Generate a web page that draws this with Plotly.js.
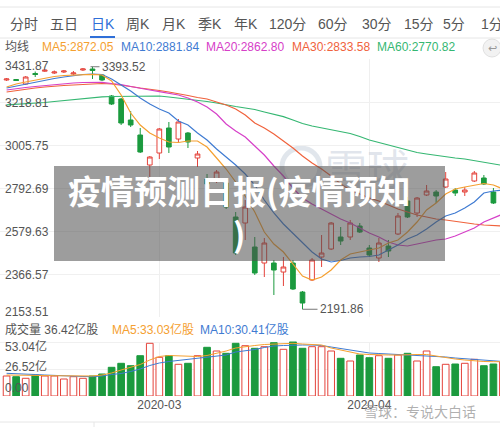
<!DOCTYPE html>
<html><head><meta charset="utf-8">
<script src="https://cdn.plot.ly/plotly-3.0.1.min.js"></script>
<style>html,body{margin:0;padding:0;background:#fff;}#chart{width:500px;height:427px;}</style>
</head><body><div id="chart"></div>
<script>
// ---------------- data ----------------
const dates = ['2020-02-07','2020-02-10','2020-02-11','2020-02-12','2020-02-13','2020-02-14','2020-02-17','2020-02-18','2020-02-19','2020-02-20','2020-02-21','2020-02-24','2020-02-25','2020-02-26','2020-02-27','2020-02-28','2020-03-02','2020-03-03','2020-03-04','2020-03-05','2020-03-06','2020-03-09','2020-03-10','2020-03-11','2020-03-12','2020-03-13','2020-03-16','2020-03-17','2020-03-18','2020-03-19','2020-03-20','2020-03-23','2020-03-24','2020-03-25','2020-03-26','2020-03-27','2020-03-30','2020-03-31','2020-04-01','2020-04-02','2020-04-03','2020-04-07','2020-04-08','2020-04-09','2020-04-10','2020-04-13','2020-04-14','2020-04-15','2020-04-16','2020-04-17','2020-04-20','2020-04-21','2020-04-22'];
const open  = [3327.8,3330.3,3308.0,3360.0,3371.4,3362.5,3367.5,3357.6,3377.4,3382.3,3352.6,3248.5,3233.7,3129.6,3055.3,2906.6,2966.1,3090.0,3035.5,3065.2,2941.3,2837.3,2832.3,2817.4,2649.0,2619.2,2500.3,2421.0,2421.0,2376.4,2421.0,2277.3,2336.8,2450.8,2490.4,2549.9,2549.9,2604.4,2495.4,2445.8,2505.3,2564.7,2728.3,2668.8,2758.0,2772.8,2797.6,2782.7,2772.8,2827.3,2842.2,2772.8,2758.0];
const high  = [3337.7,3332.8,3347.6,3369.9,3379.8,3374.9,3377.4,3372.4,3387.3,3393.52,3357.6,3253.5,3238.6,3174.2,3090.0,2951.2,3090.0,3119.7,3134.6,3070.1,2976.0,2862.0,2881.8,2842.2,2673.7,2733.2,2549.9,2544.9,2435.9,2450.8,2435.9,2282.3,2445.8,2559.8,2624.2,2599.4,2634.1,2619.2,2510.2,2544.9,2535.0,2668.8,2748.1,2748.1,2807.5,2782.7,2871.9,2792.7,2797.6,2876.9,2857.1,2792.7,2817.4];
const low   = [3322.9,3322.9,3303.0,3342.7,3367.5,3357.6,3362.5,3350.1,3372.4,3332.8,3322.9,3203.9,3104.8,3094.9,2966.1,2822.4,2936.4,2966.1,3020.6,2990.9,2896.7,2787.7,2817.4,2688.6,2460.7,2535.0,2361.6,2351.7,2262.5,2307.1,2287.2,2191.86,2331.8,2401.2,2485.4,2510.2,2535.0,2569.7,2450.8,2426.0,2450.8,2559.8,2644.0,2649.0,2753.0,2718.3,2792.7,2753.0,2753.0,2822.4,2807.5,2713.4,2748.1];
const close = [3332.8,3325.4,3342.7,3355.1,3376.4,3367.5,3372.4,3362.5,3382.3,3374.9,3327.8,3208.9,3114.7,3104.8,2971.0,2946.3,3085.0,2995.8,3119.7,3020.6,2961.1,2812.5,2871.9,2698.5,2470.6,2698.5,2371.5,2520.1,2386.3,2401.2,2292.2,2222.8,2435.9,2470.6,2619.2,2530.0,2619.2,2574.6,2460.7,2520.1,2480.5,2653.9,2649.0,2743.1,2777.8,2753.0,2837.3,2767.9,2782.7,2867.0,2812.5,2718.3,2807.5];

const ma5  = [3293.1,3308.0,3317.9,3327.8,3337.7,3345.1,3350.1,3352.6,3355.1,3356.0,3352.6,3322.9,3253.5,3164.3,3104.8,3065.2,3040.4,3020.6,3018.1,3025.6,3025.6,2995.8,2941.3,2886.8,2822.4,2753.0,2673.7,2574.6,2515.2,2475.5,2416.1,2356.6,2336.8,2351.7,2386.3,2435.9,2465.6,2475.5,2485.5,2495.4,2520.1,2535.0,2574.6,2624.2,2683.7,2718.3,2762.9,2787.7,2797.6,2807.5,2815.0,2807.5,2787.7];
const ma10 = [3288.2,3298.1,3308.0,3317.9,3327.8,3335.2,3342.7,3350.1,3355.1,3357.5,3355.1,3332.8,3303.0,3273.3,3238.6,3208.9,3184.1,3164.3,3124.7,3104.8,3065.2,3030.5,2985.9,2946.3,2906.6,2862.0,2807.5,2733.2,2668.8,2614.3,2569.7,2525.1,2475.5,2440.9,2426.0,2433.4,2445.8,2450.8,2453.3,2460.7,2485.5,2510.2,2539.9,2559.8,2589.5,2624.2,2653.9,2668.8,2693.6,2723.3,2767.9,2777.8,2782.7];
const ma20 = [3278.3,3285.7,3290.6,3295.6,3300.6,3305.5,3309.5,3312.9,3315.4,3316.4,3316.4,3310.5,3305.5,3295.6,3285.7,3278.3,3269.8,3263.4,3253.5,3238.6,3218.8,3194.0,3159.3,3109.8,3075.1,3045.4,3000.8,2956.2,2901.7,2852.1,2792.7,2743.1,2713.4,2688.6,2663.8,2639.1,2619.2,2594.5,2569.7,2549.9,2525.1,2510.2,2505.3,2515.2,2525.1,2535.0,2539.9,2554.8,2574.6,2594.5,2624.2,2644.0,2663.8];
const ma30 = [3268.4,3275.8,3283.2,3288.2,3293.1,3298.1,3300.6,3303.0,3305.5,3308.0,3310.5,3308.0,3303.0,3295.6,3288.2,3283.2,3275.8,3268.4,3260.9,3251.0,3241.1,3233.7,3218.8,3203.9,3184.1,3154.4,3114.7,3090.0,3060.2,3025.6,2990.9,2951.2,2916.5,2886.8,2852.1,2812.5,2782.7,2762.9,2743.1,2728.3,2708.4,2688.6,2673.7,2658.9,2649.0,2639.1,2634.1,2626.7,2619.2,2614.3,2609.3,2606.9,2604.4];
const ma60 = [3204.9,3207.4,3208.9,3212.3,3216.3,3221.3,3226.2,3231.2,3236.1,3241.1,3244.6,3246.1,3247.0,3248.5,3249.5,3251.0,3248.5,3243.6,3238.6,3233.7,3228.7,3221.3,3213.8,3203.9,3196.5,3189.1,3181.6,3169.2,3156.9,3146.0,3129.6,3112.3,3099.9,3090.0,3080.1,3070.1,3062.7,3047.8,3030.5,3018.1,3005.8,2993.4,2981.0,2968.6,2961.1,2953.7,2948.7,2941.3,2936.4,2928.9,2921.5,2911.6,2904.1];

const volume  = [20,19.3,17.7,21,20,20,17,19.3,17.7,20,22,28.7,32.7,30.3,40.3,52.7,38.7,40.3,31.7,32.7,40.3,48.7,45,42.7,52.7,50.3,47.7,49.3,53.3,46.7,54.3,47.7,49.3,49.3,45,37.7,35,41,38.3,40.3,37.7,41,42.7,35,45,29.3,31.7,32,32.7,36.7,30.3,32,34];
const volMa5  = [21,21,21,20.5,20.5,20.3,20.2,20,20,20,21,23,26,29,31.5,36,39.5,40.5,40.3,40,39.5,40.5,42.5,45,48,49.5,50.5,51.5,52,52.5,52.7,52,51.5,51,48,46,44,42,41.5,41,41,41,41.5,41.5,41.5,40,38,37,36,35,34.5,34.3,34.3];
const volMa10 = [22.7,22.5,22,21.5,21,20.5,20,19.7,19.5,19.3,20,21.5,22.5,24.5,27,30.5,33,34.5,35.5,36.5,37.5,38.5,39.5,41,44,45,46.5,48.5,50,50.5,51,51,51,50.5,49,47.5,46,44,43,42.5,42,41.5,41,40.5,40.3,40,39,38,37.3,36.5,35.5,35,34.5];

const priceTicks = [3431.87,3218.81,3005.75,2792.69,2579.63,2366.57,2153.51];
const priceTickText = ['3431.87','3218.81','3005.75','2792.69','2579.63','2366.57','2153.51'];
const volTicks = [53.04,26.52,0];
const volTickText = ['53.04亿','26.52亿','0.00'];
const xTickVals = ['2020-03-02','2020-04-01'];
const xTickText = ['2020-03','2020-04'];
const tabs = ['分时','五日','日K','周K','月K','季K','年K','120分','60分','30分','15分','5分','1分'];
const maLegend = ['MA5:2872.05','MA10:2881.84','MA20:2862.80','MA30:2833.58','MA60:2770.82'];
const volLegend = ['成交量 36.42亿股','MA5:33.03亿股','MA10:30.41亿股'];
const highLabel = '3393.52', lowLabel = '2191.86';
const titleText = '疫情预测日报(疫情预知<br>)';

// ---------------- layout helpers ----------------
const W = 500, H = 427;
const px = x => x / W;
const py = y => 1 - y / H;
const FONT = 'Liberation Sans, Arial, Noto Sans CJK SC, sans-serif';
const RED = '#e4433b', GREEN = '#1b9a3e';
const C5 = '#f5a030', C10 = '#3f7bd2', C20 = '#d640c8', C30 = '#f0623c', C60 = '#35b772';

const traces = [
  {type:'candlestick', x:dates, open:open, high:high, low:low, close:close, xaxis:'x', yaxis:'y',
   increasing:{line:{color:RED,width:1}, fillcolor:'#ffffff'},
   decreasing:{line:{color:GREEN,width:1}, fillcolor:GREEN},
   whiskerwidth:0, hoverinfo:'skip', showlegend:false},
  {type:'scatter', mode:'lines', x:dates, y:ma60, line:{color:C60,width:1.2}, yaxis:'y', hoverinfo:'skip'},
  {type:'scatter', mode:'lines', x:dates, y:ma30, line:{color:C30,width:1.2}, yaxis:'y', hoverinfo:'skip'},
  {type:'scatter', mode:'lines', x:dates, y:ma20, line:{color:C20,width:1.2}, yaxis:'y', hoverinfo:'skip'},
  {type:'scatter', mode:'lines', x:dates, y:ma10, line:{color:C10,width:1.2}, yaxis:'y', hoverinfo:'skip'},
  {type:'scatter', mode:'lines', x:dates, y:ma5,  line:{color:C5,width:1.2}, yaxis:'y', hoverinfo:'skip'},
  {type:'bar', x:dates, y:volume, yaxis:'y2',
   marker:{color: close.map((c,i)=> c>=open[i] ? '#ffffff' : GREEN),
           line:{color: close.map((c,i)=> c>=open[i] ? RED : GREEN), width:1}},
   hoverinfo:'skip'},
  {type:'scatter', mode:'lines', x:dates, y:volMa10, line:{color:C10,width:1}, yaxis:'y2', hoverinfo:'skip'},
  {type:'scatter', mode:'lines', x:dates, y:volMa5, line:{color:C5,width:1}, yaxis:'y2', hoverinfo:'skip'}
];

const ann = [];
// tabs
const tabX = [23.5,63.5,102.5,138,174,210,246,287.5,333,377,419,454,492];
tabs.forEach((t,i)=>ann.push({xref:'paper',yref:'paper',x:px(tabX[i]),y:py(24),text:t,showarrow:false,
  xanchor:'center',yanchor:'middle',font:{family:FONT,size:14,color:i===2?'#2f6fd8':'#555555'}}));
// MA legend row
ann.push({xref:'paper',yref:'paper',x:px(3),y:py(46.5),text:'均线',showarrow:false,xanchor:'left',yanchor:'middle',font:{family:FONT,size:12,color:'#555'}});
const legX = [40,119,204,290,375];
const legC = [C5,C10,C20,C30,C60];
maLegend.forEach((t,i)=>ann.push({xref:'paper',yref:'paper',x:px(legX[i]),y:py(46.5),text:t,showarrow:false,xanchor:'left',yanchor:'middle',font:{family:FONT,size:12,color:legC[i]}}));
// price axis labels
priceTicks.forEach((v,i)=>{
  let ys = -1;
  if (i===0) ys = -7;
  if (i===priceTicks.length-1) ys = 5;
  ann.push({xref:'paper',yref:'y',x:px(3),y:v,text:priceTickText[i],showarrow:false,xanchor:'left',yanchor:'middle',yshift:ys,
    font:{family:FONT,size:12,color:'#555'}});
});
// volume header
const volLegX = [3,110,198];
const volLegC = ['#555',C5,C10];
volLegend.forEach((t,i)=>ann.push({xref:'paper',yref:'paper',x:px(volLegX[i]),y:py(329),text:t,showarrow:false,xanchor:'left',yanchor:'middle',font:{family:FONT,size:12,color:volLegC[i]}}));
// volume axis labels
const volShift = [-4, 2.5, 8];
volTicks.forEach((v,i)=>ann.push({xref:'paper',yref:'y2',x:px(3),y:v,text:volTickText[i],showarrow:false,xanchor:'left',yanchor:'middle',yshift:volShift[i],
  font:{family:FONT,size:12,color:'#555'}}));
// high / low labels
ann.push({xref:'x',yref:'y',x:dates[9],y:high[9],xshift:7.5,text:highLabel,showarrow:false,xanchor:'left',yanchor:'middle',font:{family:FONT,size:12,color:'#555'}});
ann.push({xref:'x',yref:'y',x:dates[31],y:low[31],xshift:15.5,text:lowLabel,showarrow:false,xanchor:'left',yanchor:'middle',font:{family:FONT,size:12,color:'#555'}});
// watermark (under the grey box)
ann.push({xref:'paper',yref:'paper',x:px(367),y:py(166),text:'雪球',showarrow:false,xanchor:'center',yanchor:'middle',
  font:{family:'Noto Sans CJK SC',size:42,color:'rgba(170,182,200,0.35)'}});
// grey box
ann.push({xref:'paper',yref:'paper',x:px((54+445)/2),y:py((166+261)/2),text:' ',showarrow:false,xanchor:'center',yanchor:'middle',
  width:391,height:95,bgcolor:'rgba(80,80,80,0.56)',borderpad:0,borderwidth:0});
// title
ann.push({xref:'paper',yref:'paper',x:px(239),y:py(211),text:'<b>'+titleText.replace('<br>','</b><br><b>')+'</b>',showarrow:false,
  xanchor:'center',yanchor:'middle',align:'center',font:{family:'Noto Sans CJK SC',size:33,color:'#ffffff'}});
// bottom watermark
ann.push({xref:'paper',yref:'paper',x:px(362),y:py(411),text:'雪球：专说大白话',showarrow:false,xanchor:'left',yanchor:'middle',
  font:{family:'Noto Sans CJK SC',size:14,color:'rgba(150,150,150,0.75)'}});
// icon
ann.push({xref:'paper',yref:'paper',x:px(492),y:py(48),text:'↩',showarrow:false,xanchor:'center',yanchor:'middle',
  font:{family:'DejaVu Sans',size:11,color:'#999'}});

const shapes = [
  {type:'line',xref:'paper',yref:'paper',x0:0,x1:1,y0:py(7),y1:py(7),line:{color:'#e6e6e6',width:1}},
  {type:'line',xref:'paper',yref:'paper',x0:0,x1:1,y0:py(38),y1:py(38),line:{color:'#e6e6e6',width:1}},
  {type:'rect',xref:'paper',yref:'paper',x0:px(90),x1:px(115),y0:py(38),y1:py(36),fillcolor:'#2f6fd8',line:{width:0}},
  {type:'circle',xref:'paper',yref:'paper',x0:px(282),x1:px(320),y0:py(186),y1:py(148),line:{color:'rgba(170,182,200,0.35)',width:5},layer:'below'},
  {type:'circle',xref:'paper',yref:'paper',x0:px(483),x1:px(501),y0:py(57),y1:py(39),fillcolor:'#f2f2f2',line:{color:'#e0e0e0',width:1}},
  {type:'line',xref:'x',yref:'y',xsizemode:'pixel',xanchor:dates[9],x0:-2,x1:7,y0:high[9],y1:high[9],line:{color:'#777',width:1}},
  {type:'line',xref:'x',yref:'y',xsizemode:'pixel',xanchor:dates[31],x0:0,x1:15,y0:low[31],y1:low[31],line:{color:'#777',width:1}},
  {type:'line',xref:'paper',yref:'paper',x0:0,x1:1,y0:py(422),y1:py(422),line:{color:'#e6e6e6',width:1}},
  {type:'line',xref:'paper',yref:'paper',x0:px(94),x1:px(94),y0:py(422),y1:0,line:{color:'#e6e6e6',width:1}}
];

const layout = {
  width:W, height:H, margin:{l:0,r:0,t:0,b:0}, paper_bgcolor:'#ffffff', plot_bgcolor:'rgba(0,0,0,0)',
  showlegend:false, hovermode:false, dragmode:false, bargap:0.3,
  xaxis:{type:'category', range:[-0.69,51.69], domain:[0,1], anchor:'y2', tickvals:xTickVals, ticktext:xTickText,
    showgrid:true, gridcolor:'#efefef', gridwidth:1, showline:false, zeroline:false, ticks:'',
    tickfont:{family:FONT,size:12,color:'#555'}, rangeslider:{visible:false}, fixedrange:true},
  yaxis:{domain:[py(317),py(59)], range:[2153.51,3431.87], tickvals:priceTicks, showticklabels:false,
    showgrid:true, gridcolor:'#f0f0f0', zeroline:false, showline:false, ticks:'', fixedrange:true},
  yaxis2:{domain:[py(396),py(341.5)], range:[0,54.5], tickvals:volTicks, showticklabels:false,
    showgrid:true, gridcolor:'#f0f0f0', zeroline:false, showline:false, ticks:'', fixedrange:true},
  annotations:ann, shapes:shapes
};

Plotly.newPlot('chart', traces, layout, {displayModeBar:false, staticPlot:true});
</script></body></html>
